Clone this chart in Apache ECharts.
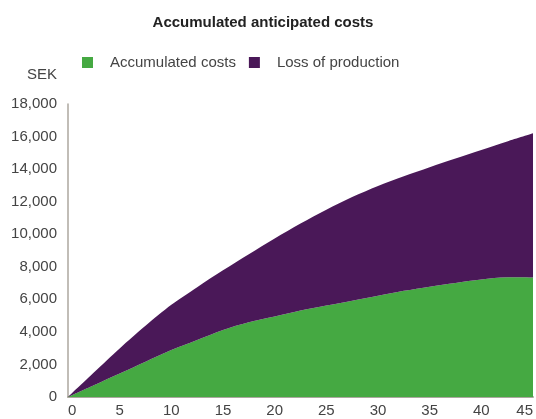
<!DOCTYPE html>
<html>
<head>
<meta charset="utf-8">
<script src="https://cdn.jsdelivr.net/npm/echarts@6/dist/echarts.min.js"></script>
<style>
html,body{margin:0;padding:0;background:#fff;}
#chart{width:536px;height:419px;}
</style>
</head>
<body>
<div id="chart"></div>
<script>
const titleText = "Accumulated anticipated costs";
const unitLabel = "SEK";
const seriesNames = ["Accumulated costs", "Loss of production"];
const years = ["0", "2.5", "5", "7.5", "10", "12.5", "15", "17.5", "20", "22.5", "25", "27.5", "30", "32.5", "35", "37.5", "40", "42.5", "45"];
const accumulatedCosts = [0, 720, 1440, 2170, 2880, 3500, 4120, 4590, 4940, 5310, 5620, 5920, 6220, 6520, 6780, 7010, 7220, 7350, 7340];
const totalCosts = [0, 1500, 2980, 4370, 5660, 6750, 7780, 8770, 9740, 10660, 11510, 12280, 12960, 13560, 14120, 14650, 15180, 15700, 16200];
const lossOfProduction = totalCosts.map((t, i) => t - accumulatedCosts[i]);
const yTicks = { min: 0, max: 18000, interval: 2000 };

const font = "'Liberation Sans', Arial, sans-serif";
const chart = echarts.init(document.getElementById('chart'), null, { renderer: 'canvas' });

chart.setOption({
  animation: false,
  backgroundColor: '#ffffff',
  title: {
    text: titleText,
    left: 258, textAlign: 'center', top: 10,
    textStyle: { fontFamily: font, fontSize: 15, fontWeight: 'bold', color: '#222' }
  },
  legend: {
    data: seriesNames,
    left: 82, top: 55, padding: 0,
    itemWidth: 11, itemHeight: 11, itemGap: 13,
    icon: 'rect',
    textStyle: { fontFamily: font, fontSize: 15, color: '#444', padding: [0, 0, 0, 12] }
  },
  graphic: [{
    type: 'text', left: 27, top: 67,
    style: { text: unitLabel, font: "15px 'Liberation Sans', Arial, sans-serif", fill: '#444' }
  }],
  grid: { left: 68, right: 3, top: 104, bottom: 22, containLabel: false, outerBoundsMode: 'none' },
  xAxis: {
    type: 'category', data: years, boundaryGap: false,
    axisLine: { show: true, lineStyle: { color: '#aca79f', width: 2 } },
    axisTick: { show: false },
    splitLine: { show: false },
    axisLabel: { fontFamily: font, fontSize: 15, color: '#444', margin: 6, interval: 1,
      alignMinLabel: 'left', alignMaxLabel: 'right' }
  },
  yAxis: {
    type: 'value', min: yTicks.min, max: yTicks.max, interval: yTicks.interval,
    axisLine: { show: true, lineStyle: { color: '#aca79f', width: 1.5 } },
    axisTick: { show: false },
    splitLine: { show: false },
    axisLabel: {
      fontFamily: font, fontSize: 15, color: '#444', margin: 11,
      formatter: v => v.toLocaleString('en-US')
    }
  },
  series: [
    {
      name: seriesNames[0], type: 'line', stack: 'total', smooth: 0.3,
      symbol: 'none', lineStyle: { width: 0 },
      itemStyle: { color: '#45a942' },
      areaStyle: { color: '#45a942', opacity: 1 },
      data: accumulatedCosts
    },
    {
      name: seriesNames[1], type: 'line', stack: 'total', smooth: 0.3,
      symbol: 'none', lineStyle: { width: 0 },
      itemStyle: { color: '#4a1858' },
      areaStyle: { color: '#4a1858', opacity: 1 },
      data: lossOfProduction
    }
  ]
});
</script>
</body>
</html>
